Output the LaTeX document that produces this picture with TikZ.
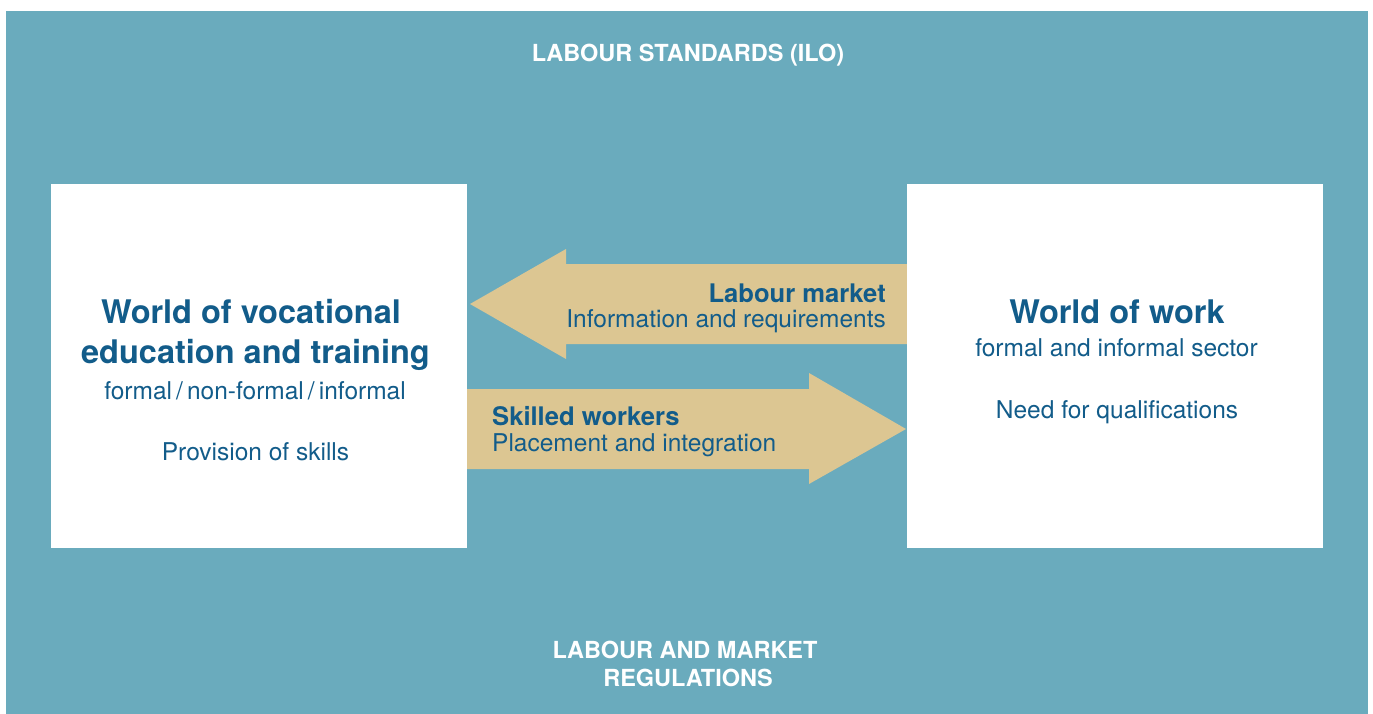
\documentclass[tikz,border=0pt]{standalone}
\usepackage{fontspec}
\setmainfont{TeX Gyre Heros}
\definecolor{teal}{RGB}{106,171,189}
\definecolor{beige}{RGB}{220,198,146}
\definecolor{ink}{RGB}{18,92,138}
\begin{document}
\begin{tikzpicture}[x=1pt,y=-1pt,
  txt/.style={inner sep=0pt, text=ink},
  whitetxt/.style={inner sep=0pt, text=white, font=\fontsize{23.5}{28}\selectfont\bfseries},
  ttl/.style={txt, font=\fontsize{32.5}{40}\selectfont\bfseries},
  sub/.style={txt, font=\fontsize{24.5}{28}\selectfont},
  btxt/.style={txt, font=\fontsize{25.6}{28}\selectfont\bfseries},
  box/.style={fill=white, draw=none, inner sep=0pt},
  flow/.style={fill=beige, draw=none}]
\useasboundingbox (0,0) rectangle (1373,714);
\fill[white] (0,0) rectangle (1373,714);
\fill[teal] (6,11) rectangle (1368,714);
% arrows
\fill[flow] (907,264) -- (566,264) -- (566,249) -- (470,304) -- (566,359) -- (566,344) -- (907,344) -- cycle;
\fill[flow] (467,389) -- (809,389) -- (809,373) -- (906,429) -- (809,484) -- (809,469) -- (467,469) -- cycle;
% boxes
\node[box, minimum width=416pt, minimum height=364pt, anchor=north west] (vet) at (51,184) {};
\node[box, minimum width=416pt, minimum height=364pt, anchor=north west] (work) at (907,184) {};
% frame texts
\node[whitetxt, anchor=base] (ilo) at (688,62) {LABOUR STANDARDS (ILO)};
\node[whitetxt, anchor=base] (reg1) at (685,658) {LABOUR AND MARKET};
\node[whitetxt, anchor=base] (reg2) at (688,686) {REGULATIONS};
% left box
\node[ttl, anchor=base] (vt1) at (251,323) {World of vocational};
\node[ttl, anchor=base] (vt2) at (255.5,363) {education and training};
\node[sub, anchor=base] (vs) at (255,399) {formal\,/\,non-formal\,/\,informal};
\node[sub, anchor=base] (vp) at (255.5,460) {Provision of skills};
% right box
\node[ttl, anchor=base] (wt) at (1117,323) {World of work};
\node[sub, anchor=base] (ws) at (1116.5,356) {formal and informal sector};
\node[sub, anchor=base] (wn) at (1117,418) {Need for qualifications};
% arrow texts
\node[btxt, anchor=base east] (lm) at (886,302) {Labour market};
\node[sub, anchor=base east] (lmi) at (886,327) {Information and requirements};
\node[btxt, anchor=base west] (sw) at (492,425) {Skilled workers};
\node[sub, anchor=base west] (swp) at (492,451) {Placement and integration};
\end{tikzpicture}
\end{document}
